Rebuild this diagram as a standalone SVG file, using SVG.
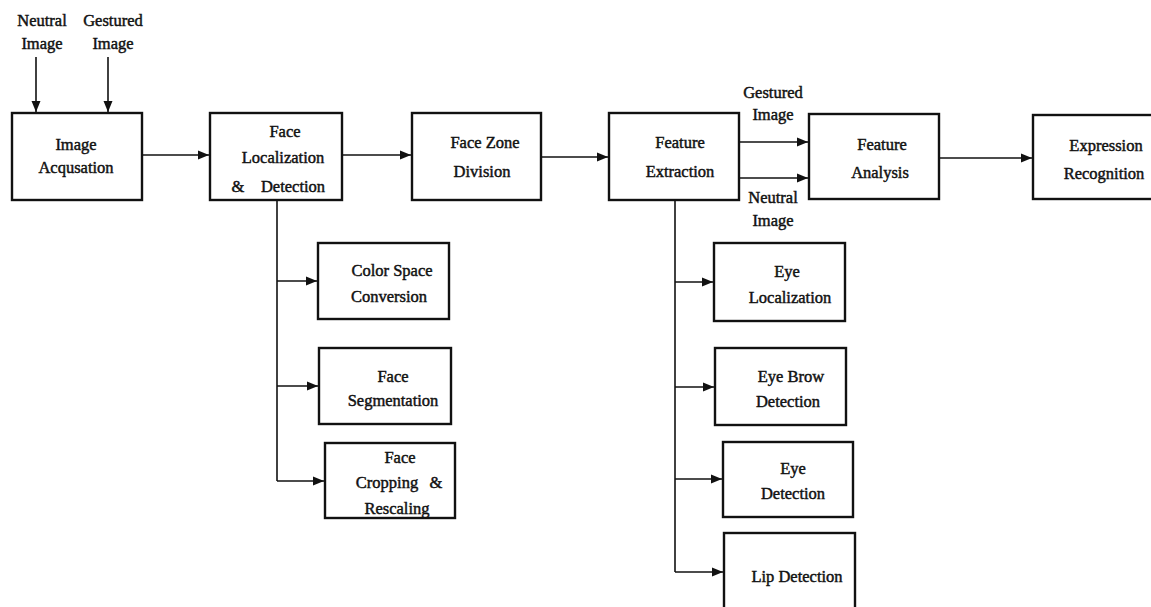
<svg xmlns="http://www.w3.org/2000/svg" width="1151" height="607" viewBox="0 0 1151 607">
<style>
.box{fill:#fff;stroke:#111;stroke-width:2.4}
.t{font-family:"Liberation Serif","Times New Roman",serif;font-size:16.5px;fill:#111;stroke:#111;stroke-width:0.45;text-anchor:middle}
.c{fill:none;stroke:#111;stroke-width:1.6}
</style>
<defs>
<marker id="ah" markerUnits="userSpaceOnUse" markerWidth="12" markerHeight="10" refX="11" refY="5" orient="auto">
<path d="M0,0.5 L11,5 L0,9.5 Z" fill="#111"/>
</marker>
</defs>
<rect width="1151" height="607" fill="#fff"/>
<g id="connectors">
<line class="c" x1="36" y1="57" x2="36" y2="112" marker-end="url(#ah)"/>
<line class="c" x1="108" y1="57" x2="108" y2="112" marker-end="url(#ah)"/>
<line class="c" x1="142" y1="155" x2="209" y2="155" marker-end="url(#ah)"/>
<line class="c" x1="342" y1="155" x2="411" y2="155" marker-end="url(#ah)"/>
<line class="c" x1="541" y1="157" x2="608" y2="157" marker-end="url(#ah)"/>
<line class="c" x1="739" y1="142" x2="808" y2="142" marker-end="url(#ah)"/>
<line class="c" x1="739" y1="178" x2="808" y2="178" marker-end="url(#ah)"/>
<line class="c" x1="939" y1="158" x2="1032" y2="158" marker-end="url(#ah)"/>
<polyline class="c" points="277,200 277,481"/>
<line class="c" x1="277" y1="281" x2="317" y2="281" marker-end="url(#ah)"/>
<line class="c" x1="277" y1="386" x2="318" y2="386" marker-end="url(#ah)"/>
<line class="c" x1="277" y1="481" x2="324" y2="481" marker-end="url(#ah)"/>
<polyline class="c" points="675,200 675,572"/>
<line class="c" x1="675" y1="282" x2="713" y2="282" marker-end="url(#ah)"/>
<line class="c" x1="675" y1="387" x2="714" y2="387" marker-end="url(#ah)"/>
<line class="c" x1="675" y1="479" x2="722" y2="479" marker-end="url(#ah)"/>
<line class="c" x1="675" y1="572" x2="723" y2="572" marker-end="url(#ah)"/>
</g>
<g id="labels">
<text class="t" x="42" y="26">Neutral</text>
<text class="t" x="42" y="49">Image</text>
<text class="t" x="113" y="26">Gestured</text>
<text class="t" x="113" y="49">Image</text>
<text class="t" x="773" y="98">Gestured</text>
<text class="t" x="773" y="120">Image</text>
<text class="t" x="773" y="203">Neutral</text>
<text class="t" x="773" y="226">Image</text>
</g>
<g id="image-acquisition">
<rect class="box" x="12" y="113" width="130" height="87"/>
<text class="t" x="76" y="150">Image</text>
<text class="t" x="76" y="173">Acqusation</text>
</g>
<g id="face-localization">
<rect class="box" x="210" y="113" width="132" height="87"/>
<text class="t" x="285" y="137">Face</text>
<text class="t" x="283" y="163">Localization</text>
<text class="t" x="238" y="192">&amp;</text>
<text class="t" x="293" y="192">Detection</text>
</g>
<g id="face-zone-division">
<rect class="box" x="412" y="113" width="129" height="87"/>
<text class="t" x="485" y="148">Face Zone</text>
<text class="t" x="482" y="177">Division</text>
</g>
<g id="feature-extraction">
<rect class="box" x="609" y="113" width="130" height="87"/>
<text class="t" x="680" y="148">Feature</text>
<text class="t" x="680" y="177">Extraction</text>
</g>
<g id="feature-analysis">
<rect class="box" x="809" y="114" width="130" height="85"/>
<text class="t" x="882" y="150">Feature</text>
<text class="t" x="880" y="178">Analysis</text>
</g>
<g id="expression-recognition">
<rect class="box" x="1033" y="115" width="140" height="84"/>
<text class="t" x="1106" y="151">Expression</text>
<text class="t" x="1104" y="179">Recognition</text>
</g>
<g id="color-space-conversion">
<rect class="box" x="318" y="243" width="131" height="76"/>
<text class="t" x="392" y="276">Color Space</text>
<text class="t" x="389" y="302">Conversion</text>
</g>
<g id="face-segmentation">
<rect class="box" x="319" y="348" width="132" height="76"/>
<text class="t" x="393" y="382">Face</text>
<text class="t" x="393" y="406">Segmentation</text>
</g>
<g id="face-cropping">
<rect class="box" x="325" y="443" width="130" height="75"/>
<text class="t" x="400" y="463">Face</text>
<text class="t" x="387" y="488">Cropping</text>
<text class="t" x="436" y="488">&amp;</text>
<text class="t" x="397" y="514">Rescaling</text>
</g>
<g id="eye-localization">
<rect class="box" x="714" y="243" width="131" height="78"/>
<text class="t" x="787" y="277">Eye</text>
<text class="t" x="790" y="303">Localization</text>
</g>
<g id="eye-brow-detection">
<rect class="box" x="715" y="348" width="131" height="77"/>
<text class="t" x="791" y="382">Eye Brow</text>
<text class="t" x="788" y="407">Detection</text>
</g>
<g id="eye-detection">
<rect class="box" x="723" y="442" width="130" height="75"/>
<text class="t" x="793" y="474">Eye</text>
<text class="t" x="793" y="499">Detection</text>
</g>
<g id="lip-detection">
<rect class="box" x="724" y="533" width="131" height="90"/>
<text class="t" x="797" y="582">Lip Detection</text>
</g>
</svg>
